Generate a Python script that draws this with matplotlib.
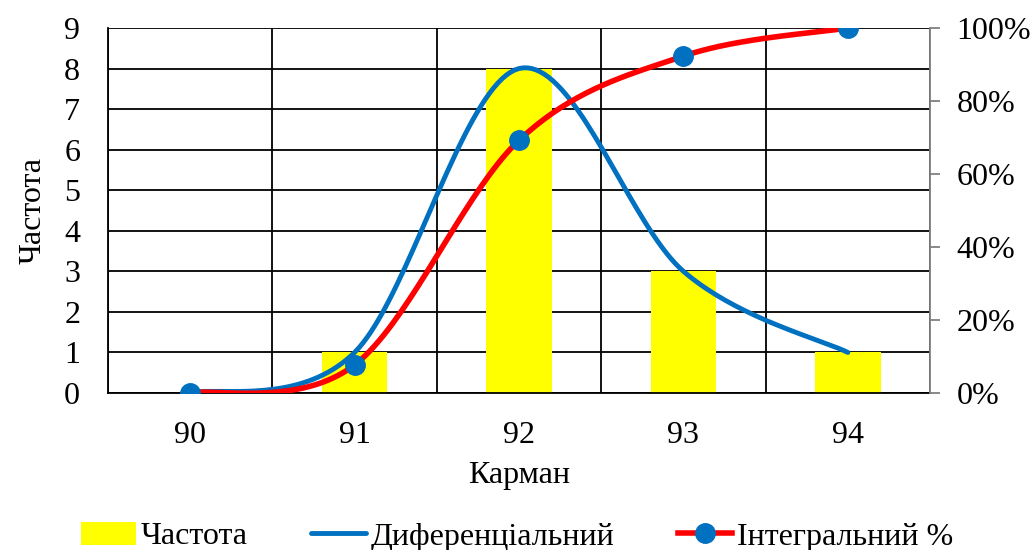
import numpy as np
import matplotlib
matplotlib.use("Agg")
import matplotlib.pyplot as plt
from matplotlib.ticker import PercentFormatter

plt.rcParams['font.family'] = ['Liberation Serif', 'DejaVu Serif']

# data
pockets = ['90', '91', '92', '93', '94']
frequency = [0, 1, 8, 3, 1]
cumulative = [0.0, 1 / 13, 9 / 13, 12 / 13, 1.0]


def smooth(xs, ys, n=40):
    # Catmull-Rom style Bezier smoothing (like spreadsheet "smoothed line")
    xs = np.asarray(xs, float)
    ys = np.asarray(ys, float)
    px = np.concatenate([[xs[0]], xs, [xs[-1]]])
    py = np.concatenate([[ys[0]], ys, [ys[-1]]])
    out_x, out_y = [], []
    t = np.linspace(0, 1, n)
    for i in range(1, len(px) - 2):
        p0 = np.array([px[i], py[i]])
        p3 = np.array([px[i + 1], py[i + 1]])
        c1 = p0 + (np.array([px[i + 1], py[i + 1]]) - np.array([px[i - 1], py[i - 1]])) / 6
        c2 = p3 - (np.array([px[i + 2], py[i + 2]]) - np.array([px[i], py[i]])) / 6
        b = ((1 - t) ** 3)[:, None] * p0 + (3 * (1 - t) ** 2 * t)[:, None] * c1 \
            + (3 * (1 - t) * t ** 2)[:, None] * c2 + (t ** 3)[:, None] * p3
        out_x.extend(b[:, 0])
        out_y.extend(b[:, 1])
    return np.array(out_x), np.array(out_y)


fig = plt.figure(figsize=(10.35, 5.5), dpi=100)
ax = fig.add_axes([0.1043, 0.2855, 0.7943, 0.6636])
x = np.arange(len(pockets))

bars = ax.bar(x, frequency, width=0.4, color='#ffff00', zorder=2, label='Частота')
sx, sy = smooth(x, frequency)
line_d, = ax.plot(sx, sy, color='#0070c0', lw=3.5, zorder=3, label='Диференціальний',
                  solid_capstyle='round')

ax.set_xlim(-0.5, 4.5)
ax.set_ylim(0, 9)
ax.set_yticks(range(0, 10))
ax.set_xticks(x)
ax.set_xticklabels(pockets)
ax.set_xticks(np.arange(-0.5, 5, 1), minor=True)
ax.grid(True, which='minor', axis='x', color='black', lw=1.3, zorder=1)
ax.grid(True, which='major', axis='y', color='black', lw=1.3, zorder=1)
ax.tick_params(axis='both', which='both', length=0, labelsize=23)
ax.tick_params(axis='y', pad=20)
ax.tick_params(axis='x', pad=20)
for s in ['top', 'right']:
    ax.spines[s].set_visible(False)
ax.spines['left'].set_linewidth(1.3)
ax.spines['bottom'].set_linewidth(1.3)
ax.set_ylabel('Частота', fontsize=23, labelpad=12)
ax.set_xlabel('Карман', fontsize=23, labelpad=8)

ax2 = ax.twinx()
cx, cy = smooth(x, cumulative)
ax2.plot(cx, cy, color='#ff0000', lw=4, zorder=3)
ax2.plot(x, cumulative, 'o', color='#0070c0', ms=14, zorder=4)
ax2.set_ylim(0, 1)
ax2.set_yticks(np.linspace(0, 1, 6))
ax2.yaxis.set_major_formatter(PercentFormatter(1.0, decimals=0))
ax2.tick_params(axis='y', length=7, width=1.3, color='#808080', labelsize=23, pad=12)
for s in ['top', 'left', 'bottom']:
    ax2.spines[s].set_visible(False)
ax2.spines['right'].set_color('#808080')
ax2.spines['right'].set_linewidth(1.3)

line_i, = ax.plot([], [], color='#ff0000', lw=4, marker='o', ms=14, mfc='#0070c0',
                  mec='#0070c0', label='Інтегральний %')

fig.legend(handles=[bars, line_d, line_i], loc='lower center', ncol=3, frameon=False,
           fontsize=23, bbox_to_anchor=(0.5, -0.055), handlelength=1.7, columnspacing=2.0,
           handletextpad=0.15)

fig.savefig('out.png', dpi=100)
